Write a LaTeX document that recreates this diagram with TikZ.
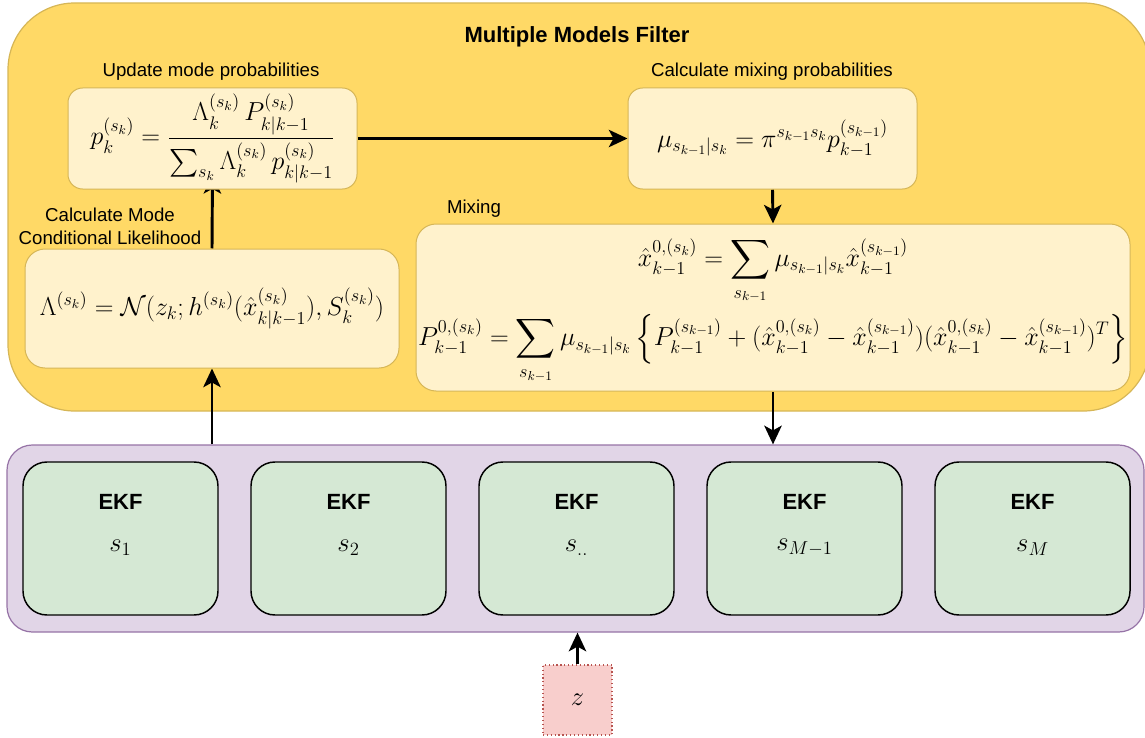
\RequirePackage{fix-cm}
\documentclass[tikz,border=0pt]{standalone}
\usepackage{amsmath}
\usepackage{fontspec}
\newfontfamily\lab{Liberation Sans}
\usetikzlibrary{arrows.meta}
\definecolor{mmfill}{HTML}{FFD966}
\definecolor{mmline}{HTML}{D6B656}
\definecolor{boxfill}{HTML}{FFF2CC}
\definecolor{bankfill}{HTML}{E1D5E7}
\definecolor{bankline}{HTML}{9673A6}
\definecolor{ekffill}{HTML}{D5E8D4}
\definecolor{zfill}{HTML}{F8CECC}
\definecolor{zline}{HTML}{B85450}
\pgfdeclarelayer{back}
\pgfdeclarelayer{wires}
\pgfsetlayers{back,wires,main}
\tikzset{
  container/.style={rectangle, inner sep=0pt, line width=0.9pt},
  panel/.style={rectangle, draw=mmline, fill=boxfill, rounded corners=11pt,
    line width=0.75pt, inner sep=0pt, align=center},
  ekf/.style={rectangle, draw=black, fill=ekffill, rounded corners=18pt,
    line width=1.1pt, minimum width=146.25pt, minimum height=114.75pt, inner sep=0pt},
  conn/.style={line width=2.2pt, -{Stealth[length=14pt,width=13pt,inset=3.5pt]}},
  lbl/.style={font=\lab\fontsize{14}{17}\selectfont, align=center},
  ekftitle/.style={font=\lab\bfseries\fontsize{16.5}{19}\selectfont},
  mathbig/.style={font=\fontsize{19.5}{23}\selectfont},
  mathekf/.style={font=\fontsize{20}{24}\selectfont}
}
\begin{document}
\begin{tikzpicture}[x=0.75pt,y=-0.75pt]
\useasboundingbox (0,0) rectangle (1145,738);

% containers
\begin{pgfonlayer}{back}
\node[container, fill=mmfill, draw=mmline, rounded corners=50pt,
  minimum width=856.5pt, minimum height=306pt] (mmf) at (579,207) {};
\node[container, fill=bankfill, draw=bankline, rounded corners=19pt,
  minimum width=852.75pt, minimum height=140.25pt] (bank) at (575.5,538.5) {};
\end{pgfonlayer}

\node[font=\lab\bfseries\fontsize{16.5}{19}\selectfont] (title) at (577,37) {Multiple Models Filter};

% update mode probabilities
\node[lbl] (plab) at (211,72) {Update mode probabilities};
\node[panel, minimum width=216.75pt, minimum height=75.75pt, mathbig] (p) at (212.5,138.5)
  {$\displaystyle p_k^{(s_k)} = \frac{\Lambda_k^{(s_k)}\,P_{k|k-1}^{(s_k)}}{\sum_{s_k}\Lambda_k^{(s_k)}\,p_{k|k-1}^{(s_k)}}$};

% mixing probabilities
\node[lbl] (mulab) at (772,72) {Calculate mixing probabilities};
\node[panel, minimum width=216.75pt, minimum height=75.75pt, mathbig] (mu) at (772.5,138.5)
  {$\mu_{s_{k-1}|s_k} = \pi^{s_{k-1}s_k}p_{k-1}^{(s_{k-1})}$};

% mixing
\node[lbl] (mixlab) at (474,209) {Mixing};
\node[panel, rounded corners=15pt, minimum width=535.5pt, minimum height=125.25pt, mathbig] (mix) at (773,307.5)
  {};
\node[mathbig, align=center] (mixeq) at (773,311)
  {$\displaystyle \hat{x}_{k-1}^{0,(s_k)} = \sum_{s_{k-1}}\mu_{s_{k-1}|s_k}\hat{x}_{k-1}^{(s_{k-1})}$\\[6pt]
   $\displaystyle P_{k-1}^{0,(s_k)} = \sum_{s_{k-1}}\mu_{s_{k-1}|s_k}\left\{P_{k-1}^{(s_{k-1})}
   + (\hat{x}_{k-1}^{0,(s_k)} - \hat{x}_{k-1}^{(s_{k-1})})(\hat{x}_{k-1}^{0,(s_k)} - \hat{x}_{k-1}^{(s_{k-1})})^T\right\}$};

% mode conditional likelihood
\node[lbl] (lamlab) at (110,226) {Calculate Mode\\Conditional Likelihood};
\node[panel, rounded corners=15pt, minimum width=280.5pt, minimum height=89.25pt, mathbig] (lam) at (212,308.5)
  {$\Lambda^{(s_k)} = \mathcal{N}(z_k;h^{(s_k)}(\hat{x}_{k|k-1}^{(s_k)}),S_k^{(s_k)})$};

% filter bank
\foreach \i/\cx/\s in {1/120.5/1, 2/348.5/2, 3/576.5/{..}, 4/804.5/{M-1}, 5/1032.5/M}{
  \node[ekf] (ekf\i) at (\cx,538.5) {};
  \node[ekftitle] (ekft\i) at (\cx,502) {EKF};
  \node[mathekf] (ekfs\i) at (\cx,548) {$s_{\s}$};
}

% measurement
\node[rectangle, draw=zline, fill=zfill, dotted, line width=0.9pt, inner sep=0pt,
  minimum width=51.75pt, minimum height=52.5pt, mathekf] (z) at (577.5,700) {$z$};

% connectors
\begin{pgfonlayer}{wires}
\draw[conn] (p.east) -- (mu.west);
\draw[conn] (mu.south) -- (mix.north);
\draw[conn] (mix.south) -- (mix.south |- bank.north);
\draw[conn] (lam.south |- bank.north) -- (lam.south);
\draw[conn] (lam.north) -- ([yshift=11pt]p.south);
\draw[conn] (z.north) -- (z.north |- bank.south);
\end{pgfonlayer}
\end{tikzpicture}
\end{document}
